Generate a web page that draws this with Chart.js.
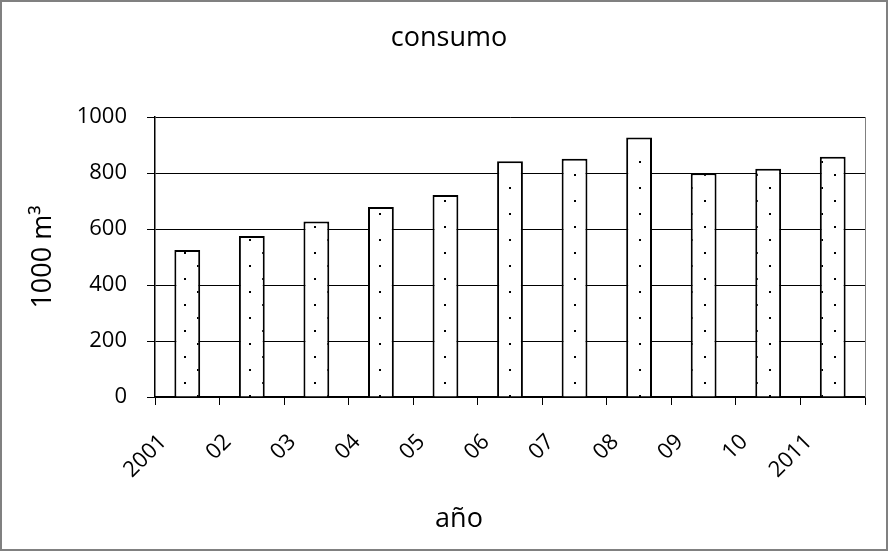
<!DOCTYPE html>
<html>
<head>
<meta charset="utf-8">
<script src="https://cdn.jsdelivr.net/npm/chart.js@4"></script>
<style>
  html, body { margin: 0; padding: 0; background: #fff; }
  #wrap { width: 888px; height: 551px; }
</style>
</head>
<body>
<div id="wrap"><canvas id="chart" width="888" height="551"></canvas></div>
<script>
// datos del gráfico
const years = ['2001', '02', '03', '04', '05', '06', '07', '08', '09', '10', '2011'];
const consumo = [525, 575, 627, 679, 721, 842, 851, 927, 799, 815, 858];
const yTicks = [0, 200, 400, 600, 800, 1000];

const FONT = "'Open Sans', 'DejaVu Sans', sans-serif";

// patrón de puntos para las barras
function dotPattern(ctx) {
  const c = document.createElement('canvas');
  c.width = 26; c.height = 26;
  const g = c.getContext('2d');
  g.fillStyle = '#fff';
  g.fillRect(0, 0, 26, 26);
  g.fillStyle = '#000';
  g.fillRect(2, 18, 2, 2);
  g.fillRect(15, 5, 2, 2);
  return ctx.createPattern(c, 'repeat');
}

// marco, borde del área y textos de título / eje x
const frame = {
  id: 'frame',
  beforeDraw(chart) {
    const ctx = chart.ctx;
    ctx.save();
    ctx.fillStyle = '#fff';
    ctx.fillRect(0, 0, chart.width, chart.height);
    ctx.restore();
  },
  afterDraw(chart) {
    const ctx = chart.ctx;
    const a = chart.chartArea;
    ctx.save();
    ctx.strokeStyle = '#808080';
    ctx.lineWidth = 1;
    ctx.beginPath();
    ctx.moveTo(a.right + 0.5, a.top);
    ctx.lineTo(a.right + 0.5, a.bottom);
    ctx.stroke();
    ctx.lineWidth = 2;
    ctx.strokeRect(1, 1, chart.width - 2, chart.height - 2);

    ctx.fillStyle = '#000';
    ctx.font = '27px ' + FONT;
    ctx.textAlign = 'center';
    ctx.textBaseline = 'alphabetic';
    ctx.fillText('consumo', 449, 46);
    ctx.fillText('año', 459, 527);
    ctx.restore();
  }
};

const ctx = document.getElementById('chart').getContext('2d');

new Chart(ctx, {
  type: 'bar',
  data: {
    labels: years,
    datasets: [{
      label: 'consumo',
      data: consumo,
      backgroundColor: dotPattern(ctx),
      borderColor: '#000',
      borderWidth: 2,
      borderSkipped: 'bottom',
      categoryPercentage: 1,
      barPercentage: 0.4
    }]
  },
  options: {
    responsive: false,
    animation: false,
    layout: { padding: { left: 0, right: 23, top: 117, bottom: 0 } },
    plugins: {
      legend: { display: false },
      tooltip: { enabled: false }
    },
    scales: {
      x: {
        afterFit: (s) => { s.height = 154; },
        grid: {
          offset: true,
          drawOnChartArea: false,
          color: '#000',
          tickLength: 8
        },
        border: { color: '#000', width: 1.5 },
        ticks: {
          color: '#000',
          font: { family: FONT, size: 22 },
          minRotation: 45,
          maxRotation: 45,
          labelOffset: -24,
          padding: 24,
          autoSkip: false
        }
      },
      y: {
        min: 0,
        max: 1000,
        afterFit: (s) => { s.width = 155; },
        afterBuildTicks: (s) => { s.ticks = yTicks.map(v => ({ value: v })); },
        grid: {
          color: '#000',
          lineWidth: 1,
          tickLength: 8
        },
        border: { color: '#000', width: 1.5 },
        ticks: {
          color: '#000',
          font: { family: FONT, size: 22 },
          padding: 20,
          callback: (v) => String(v)
        },
        title: {
          display: true,
          text: '1000 m³',
          color: '#000',
          font: { family: FONT, size: 27 },
          padding: { top: 27, bottom: 0 }
        }
      }
    }
  },
  plugins: [frame]
});
</script>
</body>
</html>
